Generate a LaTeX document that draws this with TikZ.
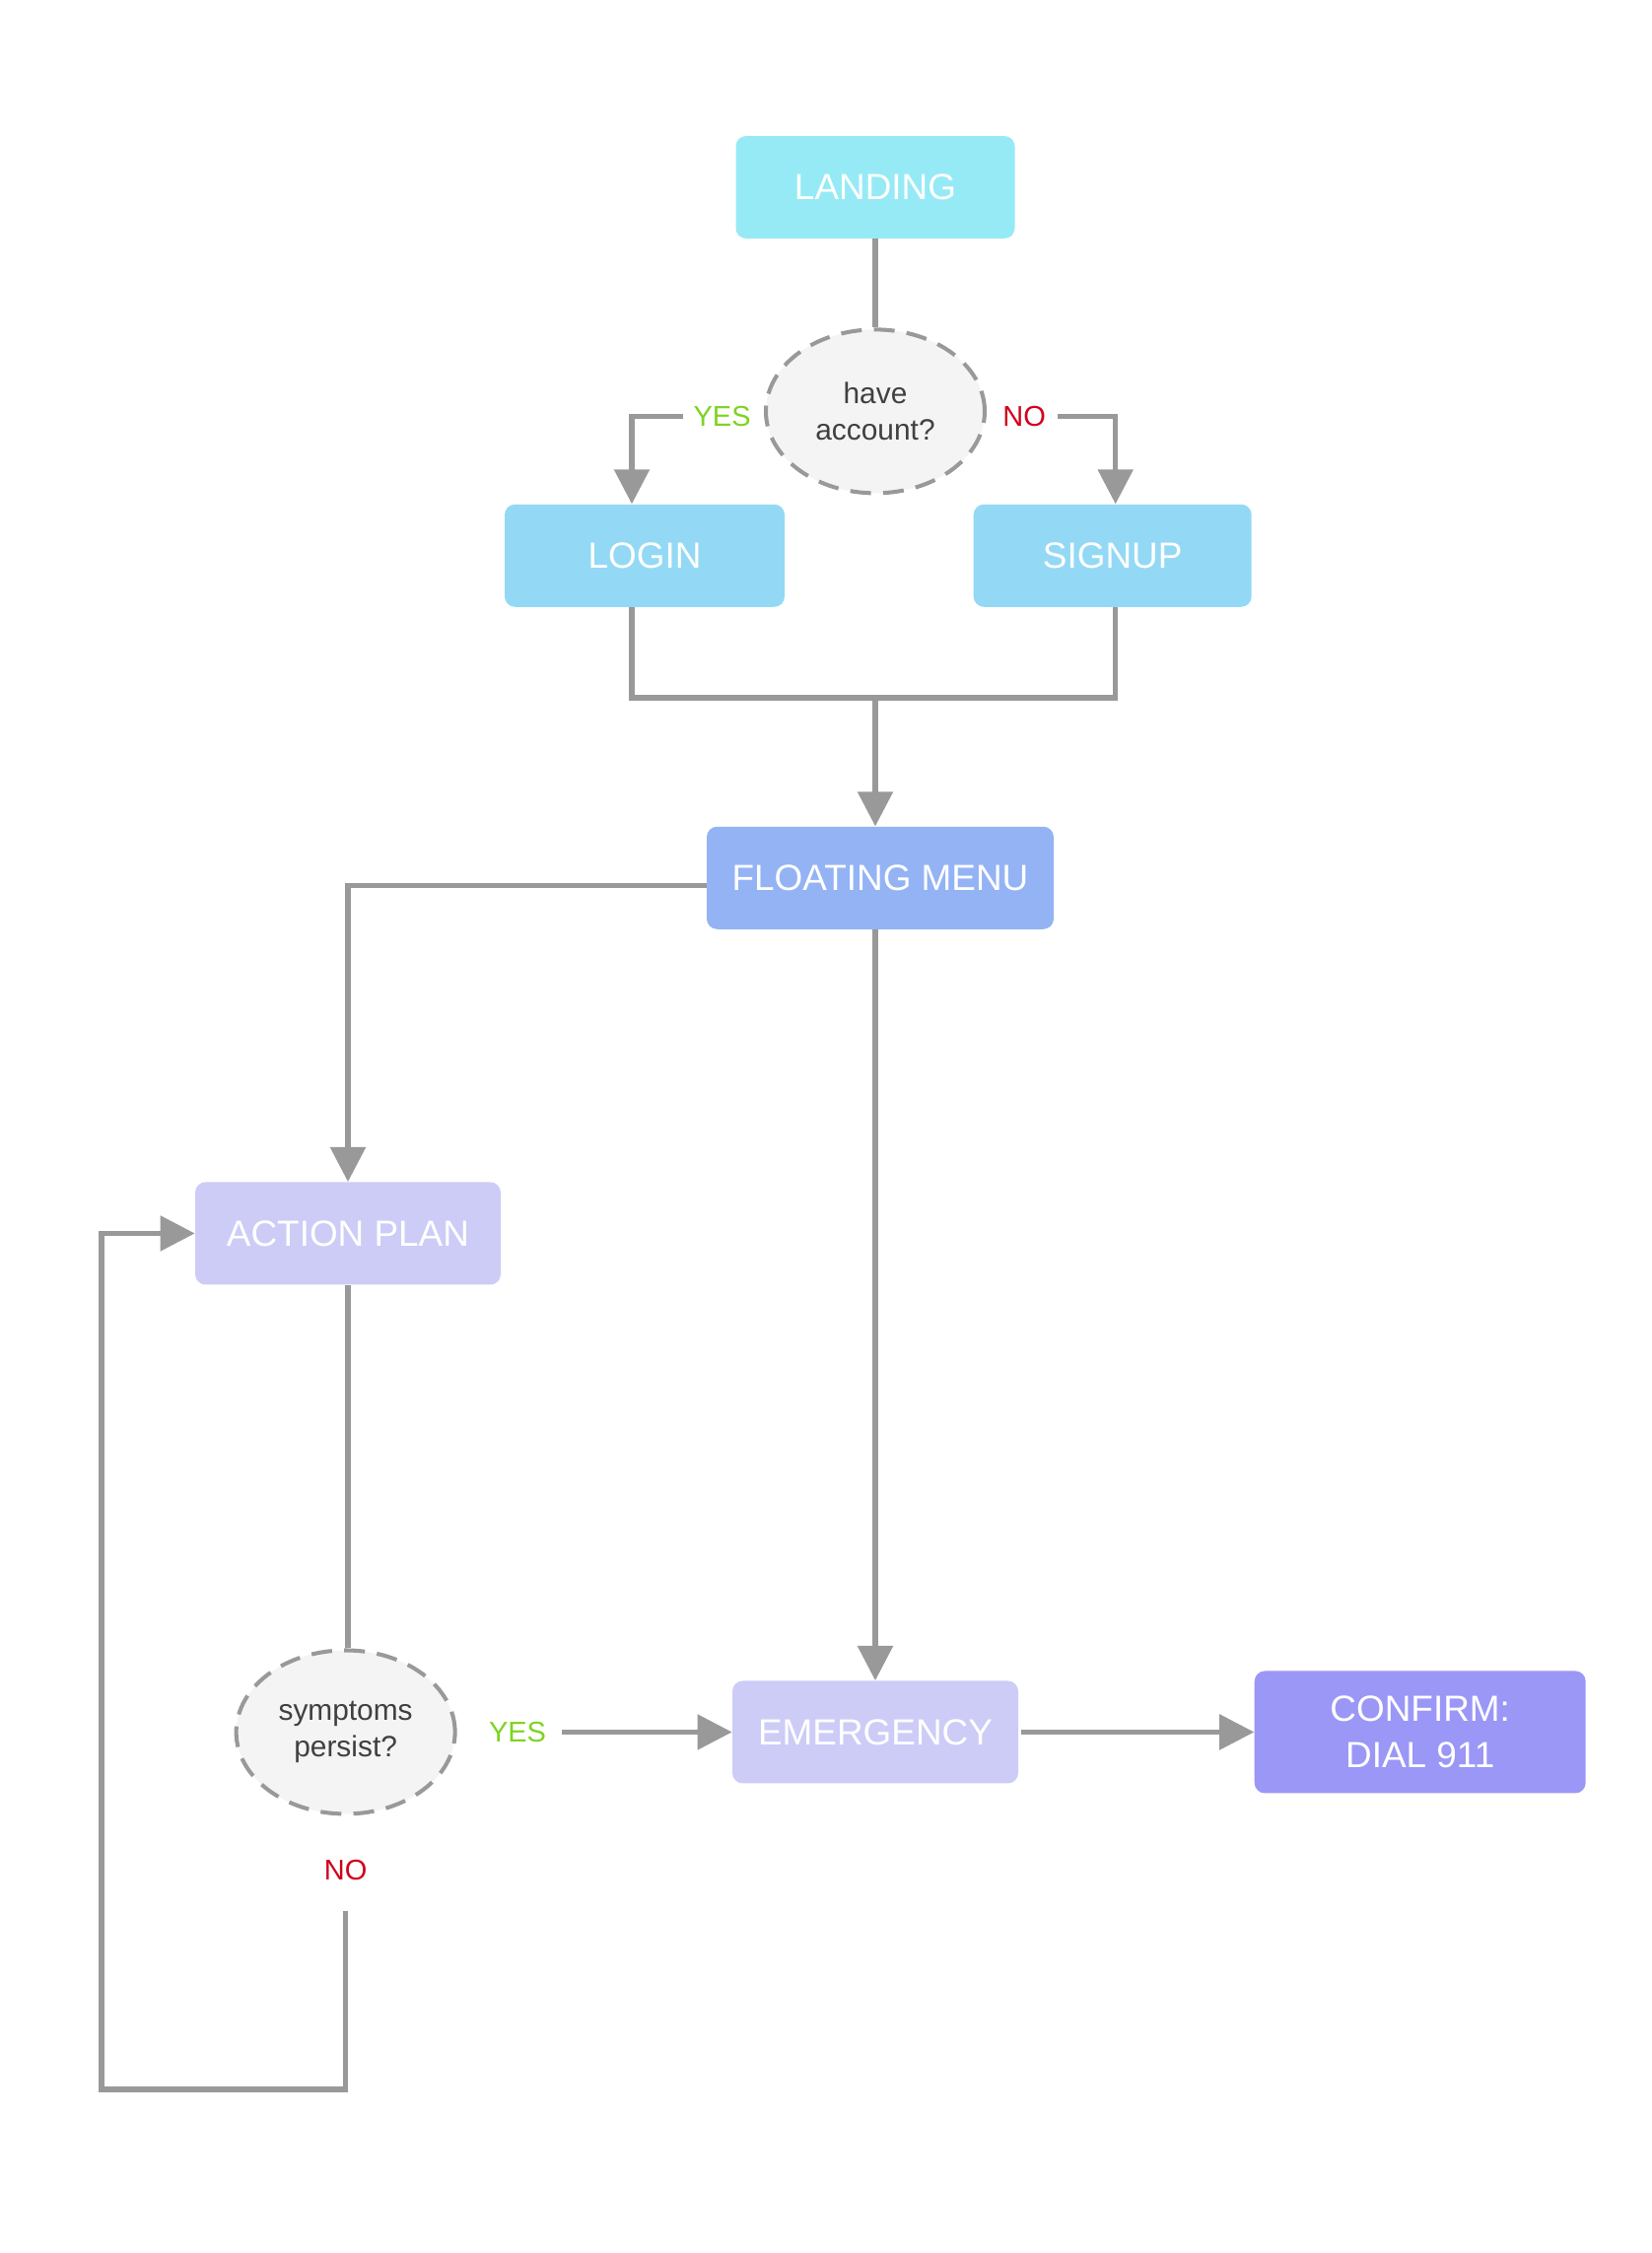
\documentclass[tikz,border=0pt]{standalone}
\usepackage{fontspec}
\setmainfont{Liberation Sans}
\usetikzlibrary{positioning,shapes.geometric,arrows.meta}

\definecolor{landingcol}{HTML}{96EAF5}
\definecolor{authcol}{HTML}{93D9F5}
\definecolor{menucol}{HTML}{94B3F5}
\definecolor{plancol}{HTML}{CDCCF7}
\definecolor{confirmcol}{HTML}{9B97F7}
\definecolor{linecol}{HTML}{999999}
\definecolor{deccol}{HTML}{F4F4F4}
\definecolor{yescol}{HTML}{7ED321}
\definecolor{nocol}{HTML}{D0021B}
\definecolor{textcol}{HTML}{404040}

\tikzset{
  screen/.style={rectangle, rounded corners=6pt, text=white, inner sep=0pt,
    minimum height=2.08cm, align=center, font=\fontsize{21}{27}\selectfont},
  decision/.style={ellipse, fill=deccol, draw=linecol, line width=2.3pt,
    dash pattern=on 12pt off 7pt, minimum width=4.44cm, minimum height=3.32cm,
    inner sep=0pt, align=center, text=textcol, font=\fontsize{17}{21.5}\selectfont},
  yeslabel/.style={text=yescol, inner sep=0pt, font=\fontsize{16.5}{20}\selectfont},
  nolabel/.style={text=nocol, inner sep=0pt, font=\fontsize{16.5}{20}\selectfont},
  link/.style={draw=linecol, line width=3pt},
  arr/.style={link, -{Triangle[width=20pt,length=20pt]}},
}

\begin{document}
\begin{tikzpicture}
  \useasboundingbox (0,0) rectangle (33.52,-45.72);

  % Define nodes
  \node[screen, fill=landingcol, minimum width=5.66cm] (landing) at (17.76,-3.80) {LANDING};
  \node[decision, below=1.80cm of landing] (account) {have\\account?};
  \node[screen, fill=authcol, minimum width=5.68cm, below=0.18cm of account, xshift=-4.68cm] (login) {LOGIN};
  \node[screen, fill=authcol, minimum width=5.64cm, right=3.82cm of login] (signup) {SIGNUP};
  \node[screen, fill=menucol, minimum width=7.04cm, below=6.72cm of account, xshift=0.1cm] (menu) {FLOATING MENU};
  \node[screen, fill=plancol, minimum width=6.2cm, below=5.12cm of menu, xshift=-10.80cm] (plan) {ACTION PLAN};
  \node[screen, fill=plancol, minimum width=5.8cm, below=15.24cm of menu, xshift=-0.1cm] (emergency) {EMERGENCY};
  \node[screen, fill=confirmcol, minimum width=6.72cm, minimum height=2.48cm, right=4.78cm of emergency] (confirm) {CONFIRM:\\DIAL 911};
  \node[decision, left=5.58cm of emergency] (persist) {symptoms\\persist?};

  % Answers
  \node[yeslabel, left=0.26cm of account, yshift=-0.1cm] (yesacc) {YES};
  \node[nolabel, right=0.32cm of account, yshift=-0.1cm] (noacc) {NO};
  \node[yeslabel, right=0.64cm of persist] (yespers) {YES};
  \node[nolabel, below=0.88cm of persist] (nopers) {NO};

  \coordinate[below=1.84cm of login] (join);
  \coordinate (loop) at (2.06,-42.40);

  % Connect the nodes
  \draw[link] (landing) -- (account);
  \draw[arr] ([xshift=-0.2cm]yesacc.west) -| ([xshift=-0.26cm]login.north);
  \draw[arr] ([xshift=0.24cm]noacc.east) -| ([xshift=0.06cm]signup.north);
  \draw[link] ([xshift=-0.26cm]login.south) -- ([xshift=-0.26cm]join) -| ([xshift=0.06cm]signup.south);
  \draw[arr] (join -| account) -- (account |- menu.north);
  \draw[arr] ([yshift=-0.16cm]menu.west) -| (plan.north);
  \draw[arr] (account |- menu.south) -- (emergency.north);
  \draw[link] (plan) -- (plan |- persist.north);
  \draw[arr] ([xshift=0.32cm]yespers.east) -- (emergency.west);
  \draw[arr] ([xshift=0.06cm]emergency.east) -- (confirm.west);
  \draw[arr] ([yshift=-0.62cm]nopers.south) |- (loop) |- (plan.west);
\end{tikzpicture}
\end{document}
